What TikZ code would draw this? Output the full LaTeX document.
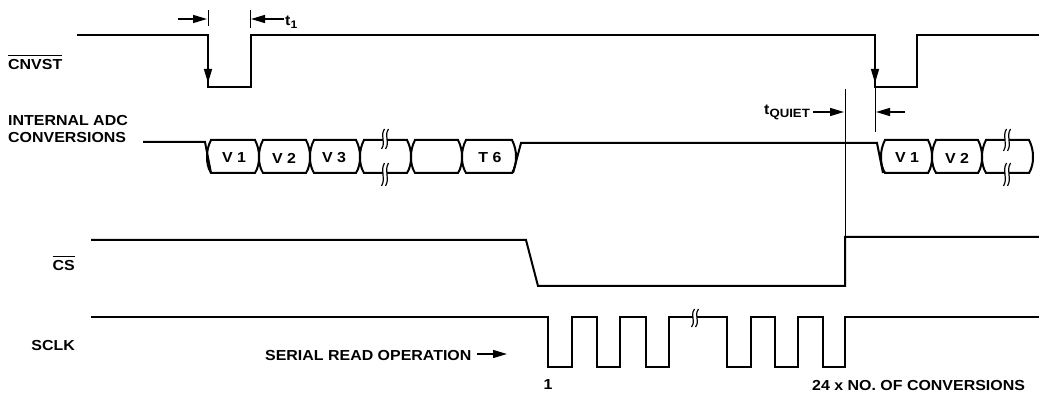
\documentclass[tikz,border=0pt]{standalone}
\usepackage{fontspec}
\setmainfont{Liberation Sans}[FakeStretch=1.1]
\usetikzlibrary{arrows.meta}
\newcommand\ovl[1]{\leavevmode\vbox{\hrule height 0.9pt\kern 3.5pt\hbox{#1}}}
\newcommand\adcbox[2]{%
  \draw[sig] ({#1+4},140) -- ({#2-4},140)
    .. controls ({#2-1},146) and ({#2},151) .. (#2,157)
    .. controls ({#2},163) and ({#2-1},168) .. ({#2-4},173)
    -- ({#1+4},173)
    .. controls ({#1+1},168) and ({#1},163) .. (#1,157)
    .. controls ({#1},151) and ({#1+1},146) .. ({#1+4},140) -- cycle;}
\newcommand\wavy[3]{% x, y1, y2
  \fill[white] ({#1-2},{#2+4}) rectangle ({#1+2},{#3-4});
  \foreach \dx in {-2,2}{%
    \draw[brk] ({#1+\dx+1.5},#2) .. controls ({#1+\dx-3.5},{#2+0.4*(#3-#2)}) and ({#1+\dx+3.5},{#2+0.6*(#3-#2)}) .. ({#1+\dx-1.5},#3);}}
\begin{document}
\begin{tikzpicture}[x=1pt,y=-1pt,
  sig/.style={line width=2pt, line join=miter},
  thinl/.style={line width=0.9pt},
  brk/.style={line width=1.2pt},
  arr/.style={line width=1.3pt,-{Triangle[length=14pt,width=8pt]}},
  lbl/.style={font=\fontsize{14.5}{17}\selectfont\bfseries, inner sep=0pt}]
\useasboundingbox (0,0) rectangle (1039,395);

% ---------- CNVST ----------
\node[lbl, anchor=base west] (lcnvst) at (8,70) {\ovl{CNVST}};
\draw[sig] (77,35) -- (208,35) -- (208,87) -- (251,87) -- (251,35) -- (875,35)
  -- (875,87) -- (917,87) -- (917,35) -- (1039,35);
\draw[arr] (208,58) -- (208,83);
\draw[arr] (875,58) -- (875,83);

% t1 dimension
\draw[thinl] (208,10) -- (208,26);
\draw[thinl] (250,10) -- (250,28);
\draw[arr] (178,19) -- (207,19);
\draw[arr] (284,19) -- (251,19);
\node[lbl, anchor=base west] (lt1) at (285,26) {t\raisebox{-3pt}{\fontsize{11}{11}\selectfont 1}};

% ---------- INTERNAL ADC ----------
\node[lbl, anchor=base west, align=left] (ladc) at (8,143) {INTERNAL ADC\\CONVERSIONS};
\draw[sig] (143,142) -- (205,142) -- (211,173);
\adcbox{207}{259}
\adcbox{259}{310}
\adcbox{310}{360}
\adcbox{360}{411}
\adcbox{411}{462}
\adcbox{462}{516}
\draw[sig] (513,173) -- (521,143) -- (877,143) -- (883,173);
\adcbox{881}{932}
\adcbox{932}{982}
\adcbox{982}{1033}
\wavy{385}{129}{149}
\wavy{385}{163}{186}
\wavy{1007}{129}{151}
\wavy{1007}{163}{186}
\node[lbl] (v1a) at (234,158) {V 1};
\node[lbl] (v2a) at (284,158) {V 2};
\node[lbl] (v3a) at (334,158) {V 3};
\node[lbl] (t6) at (490,158) {T 6};
\node[lbl] (v1b) at (907,158) {V 1};
\node[lbl] (v2b) at (957,158) {V 2};

% tQUIET
\draw[thinl] (845,89) -- (845,237);
\draw[thinl] (875,87) -- (875,132);
\node[lbl, anchor=base west] (ltq) at (764,115) {t\raisebox{-2.5pt}{\fontsize{12}{12}\selectfont QUIET}};
\draw[arr] (813,112) -- (844,112);
\draw[arr] (905,112) -- (876,112);

% ---------- CS ----------
\node[lbl, anchor=base east] (lcs) at (75,271) {\ovl{CS}};
\draw[sig] (91,240) -- (526,240) -- (538,286) -- (845,286) -- (845,237) -- (1039,237);

% ---------- SCLK ----------
\node[lbl, anchor=base east] (lsclk) at (75,350) {SCLK};
\draw[sig] (91,317) -- (548,317) -- (548,367) -- (572,367) -- (572,317) -- (597,317)
  -- (597,367) -- (620,367) -- (620,317) -- (646,317) -- (646,367) -- (669,367)
  -- (669,317) -- (727,317) -- (727,367) -- (751,367) -- (751,317) -- (775,317)
  -- (775,367) -- (798,367) -- (798,317) -- (823,317) -- (823,367) -- (845,367)
  -- (845,317) -- (1039,317);
\wavy{695}{309}{327}
\node[lbl, anchor=base west] (lser) at (265,360) {SERIAL READ OPERATION};
\draw[arr] (477,354) -- (507,354);
\node[lbl, anchor=base] (lone) at (548,389) {1};
\node[lbl, anchor=base west] (lconv) at (812,390) {24 x NO. OF CONVERSIONS};
\end{tikzpicture}
\end{document}
